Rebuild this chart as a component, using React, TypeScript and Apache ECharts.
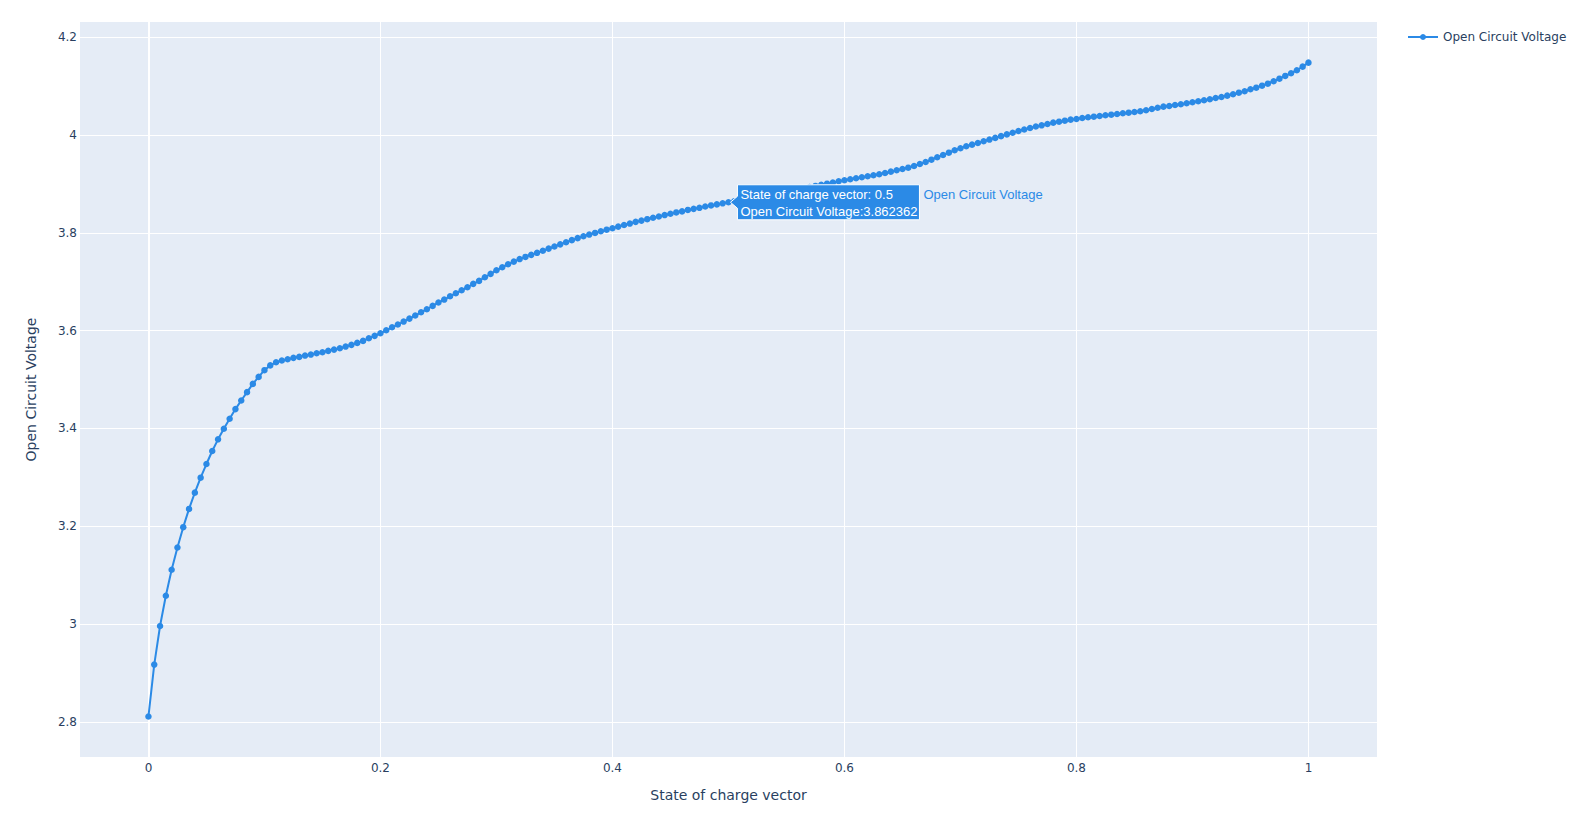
import React, { useEffect, useRef } from "react";
import * as echarts from "echarts";

const SERIES_NAME = "Open Circuit Voltage";
const X_TITLE = "State of charge vector";
const Y_TITLE = "Open Circuit Voltage";

const SOC = [
  0, 0.005, 0.01, 0.015, 0.02, 0.025, 0.03, 0.035, 0.04, 0.045, 0.05, 0.055, 0.06, 0.065, 0.07, 0.075, 0.08, 0.085, 0.09, 0.095,
  0.1, 0.105, 0.11, 0.115, 0.12, 0.125, 0.13, 0.135, 0.14, 0.145, 0.15, 0.155, 0.16, 0.165, 0.17, 0.175, 0.18, 0.185, 0.19, 0.195,
  0.2, 0.205, 0.21, 0.215, 0.22, 0.225, 0.23, 0.235, 0.24, 0.245, 0.25, 0.255, 0.26, 0.265, 0.27, 0.275, 0.28, 0.285, 0.29, 0.295,
  0.3, 0.305, 0.31, 0.315, 0.32, 0.325, 0.33, 0.335, 0.34, 0.345, 0.35, 0.355, 0.36, 0.365, 0.37, 0.375, 0.38, 0.385, 0.39, 0.395,
  0.4, 0.405, 0.41, 0.415, 0.42, 0.425, 0.43, 0.435, 0.44, 0.445, 0.45, 0.455, 0.46, 0.465, 0.47, 0.475, 0.48, 0.485, 0.49, 0.495,
  0.5, 0.505, 0.51, 0.515, 0.52, 0.525, 0.53, 0.535, 0.54, 0.545, 0.55, 0.555, 0.56, 0.565, 0.57, 0.575, 0.58, 0.585, 0.59, 0.595,
  0.6, 0.605, 0.61, 0.615, 0.62, 0.625, 0.63, 0.635, 0.64, 0.645, 0.65, 0.655, 0.66, 0.665, 0.67, 0.675, 0.68, 0.685, 0.69, 0.695,
  0.7, 0.705, 0.71, 0.715, 0.72, 0.725, 0.73, 0.735, 0.74, 0.745, 0.75, 0.755, 0.76, 0.765, 0.77, 0.775, 0.78, 0.785, 0.79, 0.795,
  0.8, 0.805, 0.81, 0.815, 0.82, 0.825, 0.83, 0.835, 0.84, 0.845, 0.85, 0.855, 0.86, 0.865, 0.87, 0.875, 0.88, 0.885, 0.89, 0.895,
  0.9, 0.905, 0.91, 0.915, 0.92, 0.925, 0.93, 0.935, 0.94, 0.945, 0.95, 0.955, 0.96, 0.965, 0.97, 0.975, 0.98, 0.985, 0.99, 0.995,
  1,
];

const OCV = [
  2.8108, 2.9169, 2.9959, 3.0578, 3.1108, 3.1563, 3.198, 3.2353, 3.2686, 3.2992,
  3.3271, 3.3537, 3.3776, 3.3992, 3.4196, 3.4394, 3.4571, 3.4741, 3.491, 3.5053,
  3.519, 3.5288, 3.5352, 3.5387, 3.5413, 3.5442, 3.5462, 3.5489, 3.5509, 3.5536,
  3.5556, 3.5585, 3.5611, 3.5638, 3.5673, 3.5708, 3.5748, 3.5789, 3.5843, 3.5892,
  3.5945, 3.6006, 3.6067, 3.6123, 3.6184, 3.6245, 3.6307, 3.6374, 3.6436, 3.6505,
  3.6573, 3.6634, 3.6701, 3.6763, 3.6824, 3.6885, 3.6955, 3.7016, 3.709, 3.716,
  3.7233, 3.7295, 3.7355, 3.741, 3.7462, 3.7506, 3.7548, 3.759, 3.7632, 3.7676,
  3.772, 3.7763, 3.7806, 3.7849, 3.789, 3.7928, 3.7963, 3.7997, 3.8031, 3.8063,
  3.8093, 3.8126, 3.816, 3.8188, 3.8223, 3.8249, 3.8278, 3.8306, 3.8333, 3.8362,
  3.8389, 3.8416, 3.8437, 3.8467, 3.8489, 3.851, 3.8538, 3.8559, 3.858, 3.8602,
  3.862362, 3.8645, 3.8669, 3.869, 3.8713, 3.8734, 3.8757, 3.8778, 3.8801, 3.8822,
  3.8846, 3.8868, 3.8891, 3.8912, 3.8936, 3.8958, 3.8981, 3.9004, 3.9025, 3.9053,
  3.9074, 3.9094, 3.9115, 3.9135, 3.9155, 3.9176, 3.9196, 3.9223, 3.925, 3.9278,
  3.9305, 3.9331, 3.9366, 3.9407, 3.9448, 3.9495, 3.9544, 3.9591, 3.9638, 3.9687,
  3.9728, 3.9769, 3.9802, 3.9836, 3.9871, 3.9906, 3.994, 3.9976, 4.0012, 4.0046,
  4.008, 4.0112, 4.0142, 4.0172, 4.0197, 4.0224, 4.0252, 4.0272, 4.0292, 4.0313,
  4.0327, 4.0348, 4.0362, 4.0374, 4.0389, 4.0403, 4.0415, 4.0429, 4.0444, 4.0456,
  4.047, 4.0485, 4.0505, 4.053, 4.0556, 4.0579, 4.0593, 4.0613, 4.0628, 4.0648,
  4.0669, 4.0689, 4.071, 4.073, 4.0757, 4.0777, 4.0804, 4.0832, 4.0865, 4.0894,
  4.0935, 4.0967, 4.1008, 4.1049, 4.1098, 4.1151, 4.1207, 4.1262, 4.1323, 4.1397,
  4.1479,
];

const X_TICKS = [0, 0.2, 0.4, 0.6, 0.8, 1];
const Y_TICKS = [2.8, 3, 3.2, 3.4, 3.6, 3.8, 4, 4.2];
const HOVER_INDEX = 100;

const BLUE = "#2B8AE6";
const TEXT = "#2a3f5f";
const FONT = 'Verdana, "DejaVu Sans", sans-serif';
const HOVER_FONT = '"Liberation Sans", Arial, sans-serif';

const fmt = (v: number) => String(Math.round(v * 1000) / 1000);

export default function App() {
  const ref = useRef<HTMLDivElement>(null);

  useEffect(() => {
    const chart = echarts.init(ref.current!, null, { renderer: "svg" });
    const data = SOC.map((x, i) => [x, OCV[i]]);

    chart.setOption({
      animation: false,
      backgroundColor: "#ffffff",
      grid: {
        left: 80,
        top: 22,
        width: 1297,
        height: 735,
        show: true,
        backgroundColor: "#E5ECF6",
        borderWidth: 0,
      },
      legend: {
        data: [SERIES_NAME],
        left: 1407,
        top: 31,
        padding: 0,
        itemWidth: 30,
        itemHeight: 7.5,
        textStyle: { color: TEXT, fontSize: 12, fontFamily: FONT },
      },
      xAxis: {
        type: "value",
        min: -0.059,
        max: 1.0591,
        name: X_TITLE,
        nameLocation: "middle",
        nameGap: 31,
        nameTextStyle: { color: TEXT, fontSize: 14, fontFamily: FONT },
        axisLine: { show: false },
        axisTick: { show: false, customValues: X_TICKS },
        splitLine: { show: false },
        axisLabel: {
          customValues: X_TICKS,
          formatter: (v: number) => fmt(v),
          color: TEXT,
          fontSize: 12,
          fontFamily: FONT,
          margin: 5,
        },
      },
      yAxis: {
        type: "value",
        min: 2.728,
        max: 4.231,
        name: Y_TITLE,
        nameLocation: "middle",
        nameGap: 42,
        nameTextStyle: { color: TEXT, fontSize: 14, fontFamily: FONT },
        axisLine: { show: false },
        axisTick: { show: false, customValues: Y_TICKS },
        splitLine: { show: false },
        axisLabel: {
          customValues: Y_TICKS,
          formatter: (v: number) => fmt(v),
          color: TEXT,
          fontSize: 12,
          fontFamily: FONT,
          margin: 3,
        },
      },
      series: [
        {
          name: SERIES_NAME,
          type: "line",
          data,
          z: 3,
          color: BLUE,
          symbol: "circle",
          symbolSize: 6.5,
          showSymbol: true,
          lineStyle: { color: BLUE, width: 2 },
          itemStyle: { color: BLUE },
          markLine: {
            z: 1,
            silent: true,
            symbol: ["none", "none"],
            label: { show: false },
            lineStyle: { color: "#ffffff", width: 1, type: "solid" },
            emphasis: { disabled: true },
            data: [
              ...Y_TICKS.map((v) => ({ yAxis: v })),
              ...X_TICKS.map((v) => ({
                xAxis: v,
                lineStyle: { color: "#ffffff", width: v === 0 ? 2 : 1, type: "solid" },
              })),
            ],
          },
        },
      ],
    });

    const [px, py] = chart.convertToPixel({ gridIndex: 0 }, [SOC[HOVER_INDEX], OCV[HOVER_INDEX]]) as number[];
    const bx = px + 9;
    const bw = 182;
    const top = py - 17.5;
    const bottom = py + 17.5;
    chart.setOption({
      graphic: [
        {
          type: "polygon",
          z: 100,
          shape: {
            points: [
              [px + 2, py],
              [bx, py - 6],
              [bx, top],
              [bx + bw, top],
              [bx + bw, bottom],
              [bx, bottom],
              [bx, py + 6],
            ],
          },
          style: { fill: BLUE, stroke: "#ffffff", lineWidth: 1 },
        },
        {
          type: "text",
          z: 101,
          x: bx + 3,
          y: py - 8,
          style: {
            text: `${X_TITLE}: ${fmt(SOC[HOVER_INDEX])}`,
            fill: "#ffffff",
            font: `13px ${HOVER_FONT}`,
            verticalAlign: "middle",
            align: "left",
          },
        },
        {
          type: "text",
          z: 101,
          x: bx + 3,
          y: py + 9,
          style: {
            text: `${SERIES_NAME}:${OCV[HOVER_INDEX]}`,
            fill: "#ffffff",
            font: `13px ${HOVER_FONT}`,
            verticalAlign: "middle",
            align: "left",
          },
        },
        {
          type: "text",
          z: 101,
          x: bx + bw + 4,
          y: py - 8,
          style: {
            text: SERIES_NAME,
            fill: BLUE,
            font: `13px ${HOVER_FONT}`,
            verticalAlign: "middle",
            align: "left",
          },
        },
      ],
    });

    return () => chart.dispose();
  }, []);

  return (
    <div
      ref={ref}
      style={{ position: "fixed", left: 0, top: 0, width: 1572, height: 817 }}
    />
  );
}
